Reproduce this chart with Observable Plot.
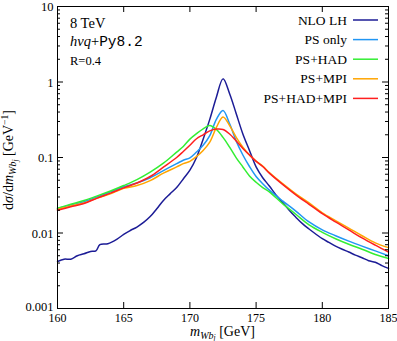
<!DOCTYPE html>
<html><head><meta charset="utf-8">
<script src="https://cdn.jsdelivr.net/npm/d3@7"></script>
<script src="https://cdn.jsdelivr.net/npm/@observablehq/plot@0.6"></script>
<style>
body{margin:0;background:#fff}
svg{display:block}
</style>
</head><body><div id="chart"></div>
<script>
// ---- data ----
const seriesNames = ["NLO LH", "PS only", "PS+HAD", "PS+MPI", "PS+HAD+MPI"];
const seriesColors = ["#1c1c96", "#2196f3", "#33ee33", "#ffa500", "#ff1f1f"];

const massGrid = [160, 161, 162, 163, 164, 165, 166, 167, 168, 169, 169.5, 170, 170.5, 171, 171.5, 172, 172.5, 173, 173.5, 174, 174.5, 175, 175.5, 176, 177, 178, 179, 180, 181, 182, 183, 184, 185];

const psOnly = [0.0212, 0.0235, 0.026, 0.030, 0.035, 0.041, 0.046, 0.054, 0.067, 0.083, 0.092, 0.099, 0.118, 0.145, 0.195, 0.32, 0.42, 0.28, 0.165, 0.108, 0.076, 0.056, 0.045, 0.037, 0.0266, 0.0195, 0.014, 0.011, 0.0092, 0.0078, 0.0067, 0.0058, 0.0050];

const psHad = [0.0213, 0.024, 0.027, 0.031, 0.036, 0.0425, 0.051, 0.064, 0.084, 0.118, 0.14, 0.175, 0.207, 0.24, 0.265, 0.235, 0.185, 0.137, 0.099, 0.075, 0.057, 0.047, 0.040, 0.035, 0.0245, 0.0177, 0.0128, 0.0102, 0.0084, 0.0071, 0.0061, 0.0052, 0.0046];

const psMpi = [0.0205, 0.0228, 0.025, 0.029, 0.033, 0.039, 0.0425, 0.0494, 0.062, 0.075, 0.083, 0.089, 0.103, 0.124, 0.16, 0.25, 0.345, 0.265, 0.185, 0.137, 0.108, 0.090, 0.077, 0.063, 0.045, 0.033, 0.025, 0.0185, 0.0146, 0.0116, 0.0092, 0.0074, 0.0064];

const psHadMpi = [0.020, 0.0222, 0.0246, 0.029, 0.0337, 0.0396, 0.046, 0.056, 0.0745, 0.10, 0.12, 0.145, 0.177, 0.20, 0.225, 0.238, 0.235, 0.205, 0.165, 0.132, 0.108, 0.089, 0.076, 0.062, 0.044, 0.032, 0.024, 0.018, 0.014, 0.011, 0.0086, 0.0069, 0.0056];

const nloMass = [160, 160.5, 161, 161.5, 162, 162.5, 162.9, 163.2, 163.8, 164.5, 165, 165.5, 166, 166.5, 167, 167.5, 168, 168.5, 169, 169.5, 170, 170.5, 171, 171.5, 172, 172.5, 173, 173.5, 174, 174.5, 175, 175.5, 176, 176.5, 177, 177.5, 178, 178.5, 179, 179.5, 180, 180.5, 181, 181.5, 182, 182.5, 183, 183.5, 184, 184.5, 185];
const nloLH = [0.0042, 0.0045, 0.0045, 0.0050, 0.0053, 0.0057, 0.0058, 0.0070, 0.0072, 0.0083, 0.0096, 0.0108, 0.0120, 0.0138, 0.0165, 0.021, 0.027, 0.033, 0.040, 0.052, 0.068, 0.10, 0.175, 0.32, 0.63, 1.10, 0.70, 0.38, 0.205, 0.124, 0.075, 0.054, 0.042, 0.032, 0.0255, 0.020, 0.0162, 0.0133, 0.0113, 0.0097, 0.0084, 0.0075, 0.0067, 0.0061, 0.0056, 0.0051, 0.0047, 0.0043, 0.0041, 0.0037, 0.0034];

const xTicks = [160, 165, 170, 175, 180, 185];
const yTicks = [0.001, 0.01, 0.1, 1, 10];
const yTickLabels = ["0.001", "0.01", "0.1", "1", "10"];

// ---- table for the library ----
const rows = [];
nloMass.forEach((m, i) => rows.push({series: seriesNames[0], m, v: nloLH[i]}));
[psOnly, psHad, psMpi, psHadMpi].forEach((arr, k) =>
  massGrid.forEach((m, i) => rows.push({series: seriesNames[k + 1], m, v: arr[i]})));

const yMinor = [];
for (let e = -3; e < 1; e++) for (let k = 2; k <= 9; k++) yMinor.push(+(k * Math.pow(10, e)).toPrecision(3));
const labelOf = new Map(yTicks.map((t, i) => [t, yTickLabels[i]]));

const W = 397, H = 341, mL = 57, mR = 9, mT = 6, mB = 33;
const pw = W - mL - mR, ph = H - mT - mB;
const serif = "'Liberation Serif', 'Times New Roman', serif";

const plot = Plot.plot({
  width: W, height: H,
  marginLeft: mL, marginRight: mR, marginTop: mT, marginBottom: mB,
  style: {fontFamily: serif, fontSize: "13px", background: "white", color: "black"},
  x: {domain: [160, 185]},
  y: {type: "log", domain: [0.001, 10]},
  color: {domain: seriesNames, range: seriesColors},
  marks: [
    Plot.line(rows, {x: "m", y: "v", z: "series", stroke: "series", strokeWidth: 1.5, curve: "catmull-rom"}),
    // inward ticks
    Plot.tickY(yTicks, {y: d => d, insetRight: pw - 6, stroke: "black"}),
    Plot.tickY(yTicks, {y: d => d, insetLeft: pw - 6, stroke: "black"}),
    Plot.tickY(yMinor, {y: d => d, insetRight: pw - 3, stroke: "black"}),
    Plot.tickY(yMinor, {y: d => d, insetLeft: pw - 3, stroke: "black"}),
    Plot.tickX(xTicks, {x: d => d, insetTop: ph - 6, stroke: "black"}),
    Plot.tickX(xTicks, {x: d => d, insetBottom: ph - 6, stroke: "black"}),
    Plot.axisX(xTicks, {tickSize: 0, tickPadding: 5, label: null, fontSize: 12}),
    Plot.axisY(yTicks.slice(0, 1), {tickSize: 0, tickPadding: 4, dy: -1.5, label: null, tickFormat: d => labelOf.get(d), fontSize: 12.5}),
    Plot.axisY(yTicks.slice(1), {tickSize: 0, tickPadding: 4, dy: 0.5, label: null, tickFormat: d => labelOf.get(d), fontSize: 12.5}),
    Plot.frame({stroke: "black", strokeWidth: 1})
  ]
});
document.getElementById("chart").append(plot);

// ---- texts added on top of the library's SVG ----
const svg = d3.select(plot);
function rich(g, parts) {
  const t = g.append("text");
  parts.forEach(p => {
    const s = t.append("tspan").text(p.t);
    if (p.i) s.attr("font-style", "italic");
    if (p.f) s.attr("font-family", p.f);
    if (p.dy) s.attr("dy", p.dy);
    if (p.fs) s.attr("font-size", p.fs);
  });
  return t;
}
// x label
rich(svg.append("g").attr("transform", `translate(${mL + pw / 2},${H - 5})`)
  .attr("font-family", serif).attr("font-size", 14).attr("text-anchor", "middle"), [
  {t: "m", i: 1}, {t: "W", i: 1, dy: 2.5, fs: 10}, {t: "b", i: 1, fs: 10}, {t: "j", i: 1, dy: 1.5, fs: 7.5},
  {t: " [GeV]", dy: -4, fs: 14}
]);
// y label
rich(svg.append("g").attr("transform", `translate(13,${mT + ph / 2 + 3}) rotate(-90)`)
  .attr("font-family", serif).attr("font-size", 14).attr("text-anchor", "middle"), [
  {t: "d"}, {t: "σ", i: 1}, {t: "/d"}, {t: "m", i: 1},
  {t: "W", i: 1, dy: 3, fs: 10}, {t: "b", i: 1, fs: 10}, {t: "j", i: 1, dy: 2, fs: 7.5},
  {t: " [GeV", dy: -5, fs: 14}, {t: "−1", dy: -5, fs: 9.5}, {t: "]", dy: 5, fs: 14}
]);
// annotations
const ann = svg.append("g").attr("font-family", serif).attr("text-anchor", "start");
ann.append("text").attr("x", 70).attr("y", 28).attr("font-size", 14.5).text("8 TeV");
rich(ann.append("g").attr("transform", "translate(70,46)").attr("font-size", 14.5), [
  {t: "hvq", i: 1}, {t: "+"}, {t: "Py8.2", f: "'Liberation Mono', 'DejaVu Sans Mono', monospace"}
]);
ann.append("text").attr("x", 70).attr("y", 65).attr("font-size", 12.5).text("R=0.4");
// legend
const lg = svg.append("g").attr("font-family", serif).attr("font-size", 13.5);
seriesNames.forEach((name, i) => {
  const y = 20 + 19.6 * i;
  lg.append("text").attr("x", 347).attr("y", y + 4.5).attr("text-anchor", "end").text(name);
  lg.append("line").attr("x1", 353).attr("x2", 378).attr("y1", y).attr("y2", y)
    .attr("stroke", seriesColors[i]).attr("stroke-width", 1.5);
});
</script>
</body></html>
